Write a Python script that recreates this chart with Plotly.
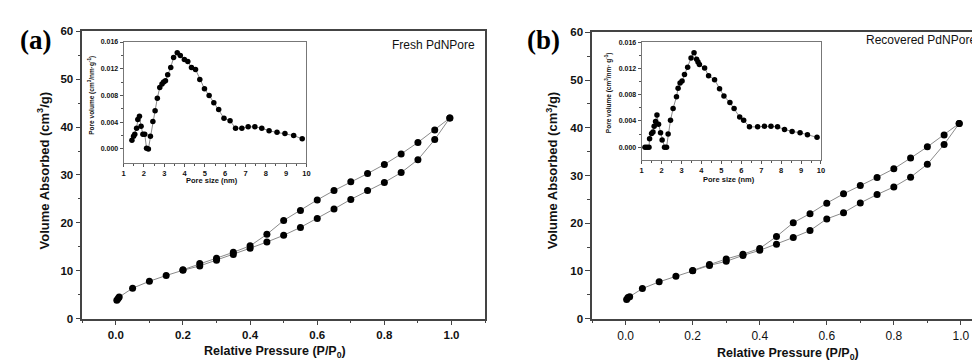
import plotly.graph_objects as go

# ---------------- data ----------------
# Panel (a) Fresh PdNPore isotherm
a_ads_p = [0.003, 0.007, 0.01, 0.05, 0.1, 0.15, 0.2, 0.25, 0.3, 0.35, 0.4, 0.45, 0.5, 0.55, 0.6, 0.65, 0.7, 0.75, 0.8, 0.85, 0.9, 0.95, 0.995]
a_ads_v = [3.85, 4.2, 4.5, 6.35, 7.8, 9.0, 10.1, 11.0, 12.2, 13.4, 14.7, 16.0, 17.4, 19.05, 20.9, 22.9, 24.9, 26.75, 28.45, 30.5, 33.2, 37.4, 41.9]
a_des_p = [0.995, 0.95, 0.9, 0.85, 0.8, 0.75, 0.7, 0.65, 0.6, 0.55, 0.5, 0.45, 0.4, 0.35, 0.3, 0.25, 0.2]
a_des_v = [41.9, 39.4, 36.8, 34.4, 32.2, 30.3, 28.6, 26.75, 24.8, 22.6, 20.5, 17.6, 15.2, 13.85, 12.6, 11.5, 10.2]

# Panel (a) inset pore-size distribution
a_pore_size = [1.41, 1.49, 1.55, 1.64, 1.70, 1.78, 1.86, 1.95, 2.04, 2.13, 2.22, 2.32, 2.44, 2.55, 2.66, 2.78, 2.89, 2.97, 3.06, 3.17, 3.32, 3.46, 3.64, 3.79, 3.99, 4.16, 4.34, 4.54, 4.75, 4.98, 5.21, 5.44, 5.68, 5.94, 6.24, 6.51, 6.82, 7.13, 7.46, 7.80, 8.16, 8.55, 8.94, 9.37, 9.79]
a_pore_vol = [0.0013, 0.0019, 0.0022, 0.0031, 0.0044, 0.0049, 0.0034, 0.0022, 0.0022, 0.0001, 0.0000, 0.0019, 0.0041, 0.0057, 0.0076, 0.0092, 0.0097, 0.0100, 0.0102, 0.0111, 0.0122, 0.0137, 0.0144, 0.0140, 0.0134, 0.0131, 0.0122, 0.0119, 0.0104, 0.0090, 0.0080, 0.0069, 0.0059, 0.0046, 0.0042, 0.0031, 0.0031, 0.0033, 0.0033, 0.0031, 0.0027, 0.0025, 0.0023, 0.0020, 0.0015]

# Panel (b) Recovered PdNPore isotherm
b_ads_p = [0.003, 0.007, 0.012, 0.05, 0.1, 0.15, 0.2, 0.25, 0.3, 0.35, 0.4, 0.45, 0.5, 0.55, 0.6, 0.65, 0.7, 0.75, 0.8, 0.85, 0.9, 0.95, 0.995]
b_ads_v = [4.0, 4.4, 4.6, 6.3, 7.7, 8.9, 10.05, 11.15, 12.0, 13.25, 14.3, 15.6, 17.0, 18.45, 20.9, 22.2, 24.25, 26.0, 27.6, 29.65, 32.35, 36.5, 40.9]
b_des_p = [0.995, 0.95, 0.9, 0.85, 0.8, 0.75, 0.7, 0.65, 0.6, 0.55, 0.5, 0.45, 0.4, 0.35, 0.3, 0.25, 0.2]
b_des_v = [40.9, 38.5, 36.0, 33.65, 31.4, 29.6, 27.9, 26.15, 24.2, 22.0, 20.1, 17.2, 14.7, 13.5, 12.5, 11.35, 10.1]

# Panel (b) inset pore-size distribution
b_pore_size = [1.17, 1.27, 1.37, 1.40, 1.50, 1.57, 1.63, 1.70, 1.77, 1.85, 1.95, 2.03, 2.15, 2.25, 2.33, 2.45, 2.58, 2.75, 2.83, 2.93, 3.03, 3.15, 3.31, 3.48, 3.63, 3.76, 3.83, 3.90, 4.16, 4.36, 4.66, 4.91, 5.13, 5.43, 5.64, 5.92, 6.12, 6.41, 6.82, 7.16, 7.49, 7.82, 8.17, 8.55, 8.95, 9.32, 9.80]
b_pore_vol = [0.0, 0.0, 0.0, 0.0013, 0.0021, 0.0023, 0.0032, 0.0039, 0.0049, 0.0035, 0.0022, 0.0011, 0.0, 0.0, 0.0020, 0.0041, 0.0059, 0.0077, 0.0090, 0.0098, 0.0101, 0.0111, 0.0122, 0.0136, 0.0144, 0.0134, 0.0130, 0.0126, 0.0121, 0.0109, 0.0103, 0.0089, 0.0078, 0.0068, 0.0059, 0.0046, 0.0041, 0.0031, 0.0031, 0.0032, 0.0032, 0.0031, 0.0027, 0.0024, 0.0022, 0.0019, 0.0015]

main_x_ticks = [0.0, 0.2, 0.4, 0.6, 0.8, 1.0]
main_x_ticklabels = ["0.0", "0.2", "0.4", "0.6", "0.8", "1.0"]
main_y_ticks = [0, 10, 20, 30, 40, 50, 60]
inset_x_ticks = [1, 2, 3, 4, 5, 6, 7, 8, 9, 10]
inset_y_ticks = [0.000, 0.004, 0.008, 0.012, 0.016]
inset_y_ticklabels = ["0.000", "0.004", "0.008", "0.012", "0.016"]

# ---------------- figure ----------------
FONT = "Arial, Liberation Sans, sans-serif"
W, H = 980, 363
LINE_C = "#8a8a8a"
FRAME_C = "#444444"

def px_x(v):
    return v / W

def px_y(v):
    return 1 - v / H

fig = go.Figure()

def add_series(x, y, xa, ya, size):
    fig.add_trace(go.Scatter(
        x=x, y=y, xaxis=xa, yaxis=ya, mode="lines+markers",
        line=dict(color=LINE_C, width=1),
        marker=dict(color="black", size=size, line=dict(width=0)),
        showlegend=False, hoverinfo="skip"))

add_series(a_ads_p, a_ads_v, "x", "y", 7)
add_series(a_des_p, a_des_v, "x", "y", 7)
add_series(a_pore_size, a_pore_vol, "x2", "y2", 5.5)
add_series(b_ads_p, b_ads_v, "x3", "y3", 7)
add_series(b_des_p, b_des_v, "x3", "y3", 7)
add_series(b_pore_size, b_pore_vol, "x4", "y4", 5.5)

def main_x(domain, rng, bold):
    return dict(domain=domain, range=rng, showline=True, linecolor=FRAME_C, linewidth=1.5,
                mirror=True, ticks="outside", ticklen=5, tickwidth=1.2, tickcolor=FRAME_C,
                tickvals=main_x_ticks, ticktext=main_x_ticklabels,
                minor=dict(tickvals=[-0.1, 0.1, 0.3, 0.5, 0.7, 0.9, 1.1], ticks="outside", ticklen=3, tickwidth=1.2, tickcolor=FRAME_C),
                tickfont=dict(family=FONT, size=11.5 if bold else 12, color="#111", weight="bold" if bold else "normal"),
                showgrid=False, zeroline=False, fixedrange=True)

def main_y(domain, mirror):
    return dict(domain=domain, range=[0, 60], showline=True, linecolor=FRAME_C, linewidth=1.5,
                mirror=mirror, ticks="outside", ticklen=5, tickwidth=1.2, tickcolor=FRAME_C,
                tickvals=main_y_ticks,
                minor=dict(tickvals=[5, 15, 25, 35, 45, 55], ticks="outside", ticklen=3, tickwidth=1.2, tickcolor=FRAME_C),
                tickfont=dict(family=FONT, size=11.5, color="#111", weight="bold"),
                showgrid=False, zeroline=False, fixedrange=True)

def inset_x(domain, anchor):
    return dict(domain=domain, anchor=anchor, range=[1, 10], showline=True, linecolor="#777", linewidth=1,
                mirror=True, ticks="outside", ticklen=3, tickwidth=1, tickcolor="#555",
                tickvals=inset_x_ticks,
                minor=dict(dtick=0.5, tick0=1, ticks="outside", ticklen=2, tickwidth=1, tickcolor="#555"),
                tickfont=dict(family=FONT, size=7.5, color="#111", weight="bold"),
                showgrid=False, zeroline=False, fixedrange=True)

def inset_y(domain, anchor, rng):
    return dict(domain=domain, anchor=anchor, range=rng, showline=True, linecolor="#777", linewidth=1,
                mirror=True, ticks="outside", ticklen=3, tickwidth=1, tickcolor="#555",
                tickvals=inset_y_ticks, ticktext=inset_y_ticklabels,
                minor=dict(tickvals=[0.002, 0.006, 0.010, 0.014], ticks="outside", ticklen=2, tickwidth=1, tickcolor="#555"),
                tickfont=dict(family=FONT, size=7, color="#111", weight="bold"),
                showgrid=False, zeroline=False, fixedrange=True)

fig.update_layout(
    width=W, height=H, margin=dict(l=0, r=0, t=0, b=0),
    paper_bgcolor="white", plot_bgcolor="rgba(0,0,0,0)",
    showlegend=False,
    xaxis=dict(main_x([px_x(72.7), px_x(478)], [-0.1, 1.1], True), anchor="y"),
    yaxis=dict(main_y([px_y(315), px_y(18)], True), anchor="x"),
    xaxis2=inset_x([px_x(114.3), px_x(298.3)], "y2"),
    yaxis2=inset_y([px_y(154), px_y(29)], "x2", [-0.0021, 0.016]),
    xaxis3=dict(main_x([px_x(585.7), 1.0], [-0.1, 1.069], False), anchor="y3"),
    yaxis3=dict(main_y([px_y(315), px_y(19)], False), anchor="x3"),
    xaxis4=inset_x([px_x(635.5), px_x(816)], "y4"),
    yaxis4=inset_y([px_y(151), px_y(29.3)], "x4", [-0.00196, 0.016]),
)

# Inset white backgrounds
for x0, x1, y0, y1 in [(114.3, 298.3, 29, 154), (635.5, 816, 29.3, 151)]:
    fig.add_shape(type="rect", xref="paper", yref="paper", x0=px_x(x0), x1=px_x(x1),
                  y0=px_y(y1), y1=px_y(y0), fillcolor="white", line=dict(width=0), layer="below")

def ann(text, x, y, size, bold=True, angle=0, family=FONT, xanchor="center", color="#111"):
    fig.add_annotation(text=text, x=px_x(x), y=px_y(y), xref="paper", yref="paper",
                       showarrow=False, textangle=angle, xanchor=xanchor, yanchor="middle",
                       font=dict(family=family, size=size, color=color, weight="bold" if bold else "normal"))

# Panel labels
ann("(a)", 26, 27, 27, family="Times New Roman, Liberation Serif, serif", color="black")
ann("(b)", 537, 27, 27, family="Times New Roman, Liberation Serif, serif", color="black")

# Sample labels
ann("Fresh PdNPore", 470, 32, 12, bold=False, xanchor="right")
ann("Recovered PdNPore", 859, 27, 12, bold=False, xanchor="left")

# Main axis titles
ann("Volume Absorbed (cm<sup>3</sup>/g)", 33, 162, 13, angle=-90)
ann("Volume Absorbed (cm<sup>3</sup>/g)", 545, 162, 13, angle=-90)
ann("Relative Pressure (P/P<sub>0</sub>)", 267, 350, 12.5)
ann("Relative Pressure (P/P<sub>0</sub>)", 783, 352, 12.5)

# Inset axis titles
ann("Pore volume (cm<sup>3</sup>/nm·g<sup>-1</sup>)", 82, 84, 6.5, angle=-90)
ann("Pore volume (cm<sup>3</sup>/nm· g<sup>-1</sup>)", 602.5, 81, 6.5, angle=-90)
ann("Pore size (nm)", 203, 172, 7.5)
ann("Pore size (nm)", 723, 171, 7.5)

fig.write_html("out.html")
